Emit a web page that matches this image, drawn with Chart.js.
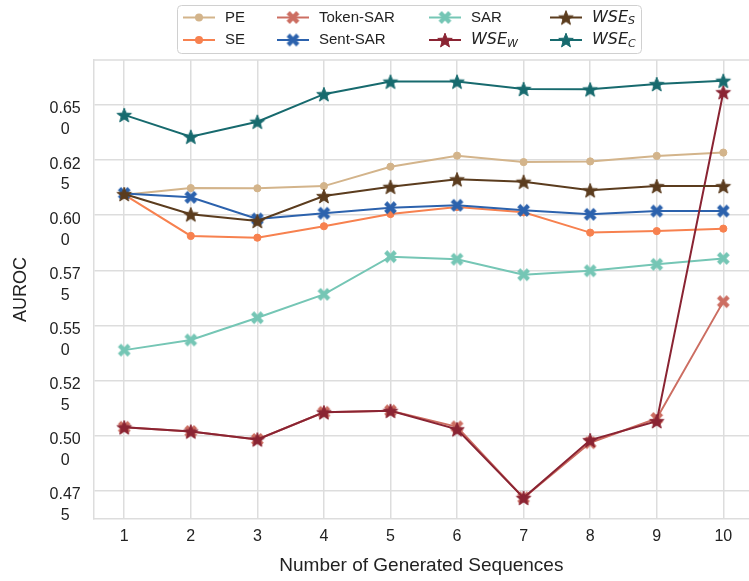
<!DOCTYPE html>
<html>
<head>
<meta charset="utf-8">
<script src="https://cdn.jsdelivr.net/npm/chart.js@4/dist/chart.umd.min.js"></script>
<style>
  html, body { margin: 0; padding: 0; background: #fff; overflow: hidden; }
  #wrap { position: relative; width: 749px; height: 581px; }
</style>
</head>
<body>
<div id="wrap"><canvas id="chart" width="749" height="581"></canvas></div>
<script>
// Data
const sequenceCounts = [1, 2, 3, 4, 5, 6, 7, 8, 9, 10];
const yTicks = [0.475, 0.500, 0.525, 0.550, 0.575, 0.600, 0.625, 0.650];

const pe       = [0.6093, 0.6123, 0.6122, 0.6132, 0.6220, 0.6270, 0.6241, 0.6244, 0.6269, 0.6284];
const se       = [0.6093, 0.5906, 0.5898, 0.5950, 0.6005, 0.6037, 0.6013, 0.5921, 0.5928, 0.5939];
const tokenSar = [0.5038, 0.5019, 0.4983, 0.5106, 0.5113, 0.5040, 0.4718, 0.4968, 0.5078, 0.5608];
const sentSar  = [0.6099, 0.6081, 0.5983, 0.6009, 0.6034, 0.6045, 0.6022, 0.6004, 0.6019, 0.6019];
const sar      = [0.5388, 0.5434, 0.5535, 0.5641, 0.5812, 0.5800, 0.5730, 0.5748, 0.5777, 0.5804];
const wseW     = [0.5038, 0.5019, 0.4983, 0.5106, 0.5113, 0.5029, 0.4718, 0.4980, 0.5066, 0.6558];
const wseS     = [0.6096, 0.6004, 0.5974, 0.6087, 0.6129, 0.6163, 0.6152, 0.6113, 0.6132, 0.6132];
const wseC     = [0.6455, 0.6356, 0.6424, 0.6549, 0.6606, 0.6606, 0.6573, 0.6571, 0.6595, 0.6610];

const GRID = "#dddddd";
const TEXT = "#222222";

// filled 5-point star marker
function makeStar(color, r) {
  const size = Math.ceil(r * 2 + 4);
  const c = document.createElement("canvas");
  c.width = size; c.height = size;
  const g = c.getContext("2d");
  const cx = size / 2, cy = size / 2 + r * 0.1;
  g.beginPath();
  for (let i = 0; i < 10; i++) {
    const rad = i % 2 === 0 ? r : r * 0.42;
    const a = -Math.PI / 2 + i * Math.PI / 5;
    const px = cx + rad * Math.cos(a), py = cy + rad * Math.sin(a);
    if (i === 0) g.moveTo(px, py); else g.lineTo(px, py);
  }
  g.closePath();
  g.fillStyle = color;
  g.fill();
  g.lineWidth = 1;
  g.strokeStyle = color;
  g.stroke();
  return c;
}

// filled "X" marker (matplotlib style)
function makeX(color, s) {
  const size = Math.ceil(s + 4);
  const c = document.createElement("canvas");
  c.width = size; c.height = size;
  const g = c.getContext("2d");
  g.translate(size / 2, size / 2);
  g.rotate(Math.PI / 4);
  const h = s * 0.62, w = s * 0.2;
  g.beginPath();
  g.moveTo(-w, -h); g.lineTo(w, -h); g.lineTo(w, -w); g.lineTo(h, -w); g.lineTo(h, w);
  g.lineTo(w, w); g.lineTo(w, h); g.lineTo(-w, h); g.lineTo(-w, w); g.lineTo(-h, w);
  g.lineTo(-h, -w); g.lineTo(-w, -w); g.closePath();
  g.fillStyle = color;
  g.fill();
  return c;
}

const series = [
  { label: "PE",        sub: null, data: pe,       color: "#d3b48b", marker: "circle" },
  { label: "SE",        sub: null, data: se,       color: "#f7814f", marker: "circle" },
  { label: "Token-SAR", sub: null, data: tokenSar, color: "#cc6e62", marker: "x" },
  { label: "Sent-SAR",  sub: null, data: sentSar,  color: "#2c62ad", marker: "x" },
  { label: "SAR",       sub: null, data: sar,      color: "#75c6b5", marker: "x" },
  { label: "WSE",       sub: "W",  data: wseW,     color: "#8a2433", marker: "star" },
  { label: "WSE",       sub: "S",  data: wseS,     color: "#5b3c1e", marker: "star" },
  { label: "WSE",       sub: "C",  data: wseC,     color: "#176a6e", marker: "star" },
];

series.forEach(s => {
  if (s.marker === "star") s.img = makeStar(s.color, 7.6);
  else if (s.marker === "x") s.img = makeX(s.color, 11);
});

const datasets = series.map((s, i) => ({
  label: s.sub ? s.label + "_" + s.sub : s.label,
  data: s.data.map((y, k) => ({ x: sequenceCounts[k], y })),
  borderColor: s.color,
  backgroundColor: s.color,
  borderWidth: 2,
  pointStyle: s.img || "circle",
  pointRadius: s.marker === "circle" ? 3.6 : 6,
  pointBorderWidth: s.marker === "circle" ? 1 : 0,
  pointBorderColor: s.color,
  pointBackgroundColor: s.color,
  tension: 0,
  fill: false,
  order: series.length - i,
}));

// legend grid: columns x positions, rows y
const legendCols = [183, 277, 429, 550];
const legendRows = [17.5, 40];
const legendLayout = [[0, 0, 0], [1, 0, 1], [2, 1, 0], [3, 1, 1], [4, 2, 0], [5, 2, 1], [6, 3, 0], [7, 3, 1]];

const legendPlugin = {
  id: "boxLegend",
  afterDraw(chart) {
    const ctx = chart.ctx;
    ctx.save();
    ctx.beginPath();
    ctx.roundRect(177.5, 5.5, 464, 48, 4);
    ctx.fillStyle = "rgba(255,255,255,0.9)";
    ctx.fill();
    ctx.strokeStyle = "#d0d0d0";
    ctx.lineWidth = 1;
    ctx.stroke();
    legendLayout.forEach(([si, col, row]) => {
      const s = series[si];
      const x0 = legendCols[col], y = legendRows[row];
      ctx.strokeStyle = s.color;
      ctx.lineWidth = 2;
      ctx.beginPath();
      ctx.moveTo(x0, y); ctx.lineTo(x0 + 32, y);
      ctx.stroke();
      const mx = x0 + 16;
      if (s.img) {
        ctx.drawImage(s.img, mx - s.img.width / 2, y - s.img.height / 2);
      } else {
        ctx.fillStyle = s.color;
        ctx.beginPath();
        ctx.arc(mx, y, 4, 0, Math.PI * 2);
        ctx.fill();
      }
      ctx.fillStyle = TEXT;
      ctx.textBaseline = "middle";
      ctx.textAlign = "left";
      const tx = x0 + 42;
      if (s.sub) {
        ctx.font = "italic 16px 'DejaVu Sans'";
        ctx.fillText(s.label, tx, y);
        const w = ctx.measureText(s.label).width;
        ctx.font = "italic 11px 'DejaVu Sans'";
        ctx.fillText(s.sub, tx + w, y + 4);
      } else {
        ctx.font = "15px 'Liberation Sans', Arial, sans-serif";
        ctx.fillText(s.label, tx, y);
      }
    });
    ctx.restore();
  },
};

// top frame line of the plot area
const framePlugin = {
  id: "frameTop",
  beforeDatasetsDraw(chart) {
    const { ctx, chartArea } = chart;
    ctx.save();
    ctx.strokeStyle = GRID;
    ctx.lineWidth = 1.5;
    ctx.beginPath();
    ctx.moveTo(chartArea.left, chartArea.top);
    ctx.lineTo(chartArea.right, chartArea.top);
    ctx.stroke();
    ctx.restore();
  },
};

new Chart(document.getElementById("chart"), {
  type: "line",
  data: { datasets },
  plugins: [framePlugin, legendPlugin],
  options: {
    responsive: false,
    animation: false,
    layout: { autoPadding: false, padding: { top: 60, left: 0, right: 0, bottom: 0 } },
    plugins: {
      legend: { display: false },
      tooltip: { enabled: false },
    },
    scales: {
      x: {
        type: "linear",
        min: 0.542,
        max: 10.386,
        ticks: {
          stepSize: 1,
          includeBounds: false,
          autoSkip: false,
          padding: 8,
          color: TEXT,
          font: { family: "'Liberation Sans', Arial, sans-serif", size: 16 },
        },
        grid: { color: GRID, lineWidth: 1.5, drawTicks: false, tickLength: 0 },
        border: { color: GRID, width: 1.5 },
        title: {
          display: true,
          text: "Number of Generated Sequences",
          color: TEXT,
          font: { family: "'Liberation Sans', Arial, sans-serif", size: 19 },
          padding: { top: 0, bottom: 4 },
        },
      },
      y: {
        min: 0.4622,
        max: 0.6704,
        afterBuildTicks: (axis) => { axis.ticks = yTicks.map(v => ({ value: v })); },
        ticks: {
          autoSkip: false,
          padding: 13,
          crossAlign: "center",
          labelOffset: 14.5,
          color: TEXT,
          font: { family: "'Liberation Sans', Arial, sans-serif", size: 16, lineHeight: 1.3 },
          callback: (v) => { const s = Number(v).toFixed(3); return [s.slice(0, 4), s.slice(4)]; },
        },
        grid: { color: GRID, lineWidth: 1.5, drawTicks: false, tickLength: 0 },
        border: { color: GRID, width: 1.5 },
        title: {
          display: true,
          text: "AUROC",
          color: TEXT,
          font: { family: "'Liberation Sans', Arial, sans-serif", size: 18 },
          padding: { top: 10, bottom: 5 },
        },
      },
    },
  },
});
</script>
</body>
</html>
